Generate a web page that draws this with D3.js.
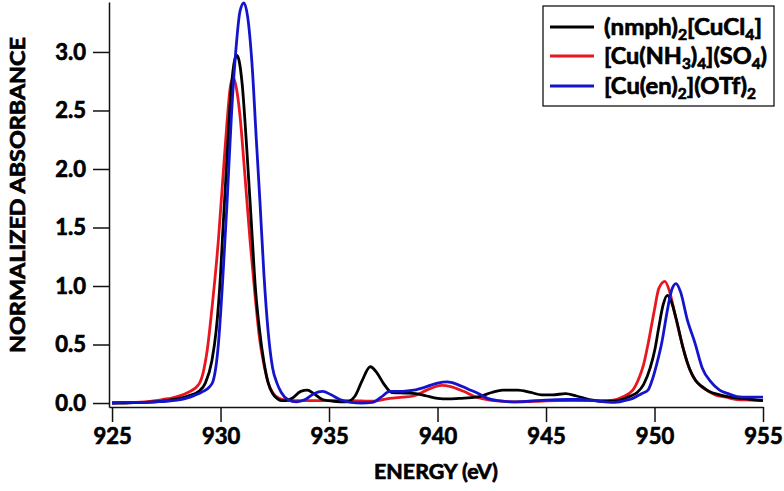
<!DOCTYPE html>
<html>
<head>
<meta charset="utf-8">
<script src="https://cdn.jsdelivr.net/npm/d3@7"></script>
<style>
  html, body { margin: 0; padding: 0; background: #fff; }
  svg { display: block; }
  text { font-family: Lato, "Open Sans", sans-serif; font-weight: 700; fill: #000; stroke: #000; stroke-width: 0.7px; }
</style>
</head>
<body>
<svg id="chart" width="784" height="491"></svg>
<script>
// ---- data ----
const xTicks = [925, 930, 935, 940, 945, 950, 955];
const yTicks = [0, 0.5, 1.0, 1.5, 2.0, 2.5, 3.0];
const xTitle = "ENERGY (eV)";
const yTitle = "NORMALIZED ABSORBANCE";

const blackE = [925.0,925.5,926.0,926.5,927.0,927.5,928.0,928.5,929.0,929.3,929.6,929.8,930.0,930.1,930.3,930.5,930.65,930.75,930.85,931.0,931.2,931.44,931.6,931.8,932.0,932.2,932.4,932.6,932.8,933.0,933.3,933.7,934.0,934.3,934.7,935.2,935.8,936.2,936.5,936.9,937.2,937.5,937.9,938.5,939.0,939.5,940.0,940.5,941.0,941.8,942.5,943.0,943.7,944.3,944.8,945.3,945.9,946.4,947.0,947.5,948.0,948.5,948.9,949.2,949.5,949.8,950.02,950.2,950.4,950.59,950.75,951.0,951.33,951.6,951.9,952.2,952.5,953.0,953.5,954.0,954.5,955.0];
const blackV = [0.0,0.0,0.003,0.005,0.01,0.02,0.035,0.06,0.1,0.17,0.36,0.62,1.1,1.45,2.1,2.7,2.93,2.97,2.93,2.72,2.2,1.48,1.0,0.62,0.35,0.17,0.08,0.04,0.02,0.02,0.04,0.1,0.11,0.08,0.03,0.015,0.01,0.06,0.18,0.31,0.26,0.17,0.09,0.085,0.08,0.06,0.04,0.035,0.04,0.05,0.09,0.11,0.11,0.09,0.07,0.07,0.08,0.06,0.03,0.015,0.015,0.03,0.06,0.09,0.16,0.3,0.46,0.65,0.84,0.92,0.88,0.72,0.46,0.3,0.19,0.14,0.1,0.07,0.05,0.04,0.03,0.02];

const redE = [925.0,926.0,926.5,927.0,927.5,927.7,928.0,928.5,929.0,929.2,929.4,929.6,929.9,930.1,930.3,930.45,930.58,930.7,930.9,931.1,931.36,931.6,931.8,932.0,932.2,932.4,932.7,933.0,933.5,934.0,935.0,936.0,937.0,937.8,938.4,938.9,939.5,940.2,940.6,941.2,941.8,942.4,943.0,943.5,944.5,945.5,946.5,947.5,948.1,948.5,949.0,949.3,949.5,949.72,950.0,950.2,950.48,950.7,950.95,951.25,951.5,951.8,952.1,952.4,952.8,953.3,953.8,954.4,955.0];
const redV = [0.0,0.005,0.01,0.02,0.035,0.04,0.055,0.09,0.16,0.26,0.47,0.8,1.39,1.9,2.4,2.7,2.78,2.72,2.45,2.0,1.39,0.9,0.55,0.33,0.17,0.09,0.04,0.025,0.02,0.02,0.02,0.02,0.015,0.04,0.05,0.06,0.11,0.15,0.14,0.1,0.05,0.025,0.015,0.01,0.015,0.02,0.02,0.02,0.025,0.05,0.11,0.22,0.33,0.52,0.8,0.98,1.04,0.95,0.75,0.52,0.35,0.22,0.15,0.11,0.07,0.05,0.03,0.025,0.02];

const blueE = [925.0,925.5,926.0,926.5,927.0,927.5,928.0,928.4,928.8,929.2,929.5,929.66,929.9,930.1,930.3,930.5,930.7,930.9,931.08,931.25,931.45,931.65,931.82,932.0,932.2,932.4,932.6,932.8,933.1,933.5,933.9,934.3,934.7,935.1,935.5,936.0,936.5,937.0,937.4,937.8,938.4,938.9,939.5,940.0,940.45,940.9,941.4,941.9,942.3,942.8,943.5,944.2,945.0,946.0,946.5,947.2,948.1,948.6,949.0,949.4,949.7,949.9,950.1,950.33,950.6,950.8,950.99,951.2,951.5,951.87,952.2,952.6,953.0,953.4,953.8,954.3,955.0];
const blueV = [0.0,0.005,0.005,0.005,0.01,0.015,0.025,0.04,0.065,0.1,0.14,0.19,0.5,1.05,1.71,2.45,3.0,3.35,3.42,3.3,2.9,2.25,1.71,1.1,0.6,0.3,0.17,0.09,0.03,0.01,0.03,0.08,0.1,0.07,0.03,0.005,0.0,0.005,0.05,0.1,0.1,0.11,0.14,0.17,0.18,0.16,0.12,0.08,0.04,0.02,0.01,0.015,0.025,0.03,0.03,0.02,0.005,0.02,0.04,0.08,0.11,0.2,0.33,0.51,0.8,0.97,1.02,0.95,0.72,0.51,0.3,0.18,0.11,0.08,0.055,0.05,0.05];

const seriesColors = { black: "#000000", red: "#e8171f", blue: "#1414cc" };

// ---- layout ----
const svg = d3.select("#chart");
const mLeft = 109, mRight = 763, mTop = 2, mBottom = 407;
const FONT = "Lato, sans-serif";

const x = d3.scaleLinear().domain([924.86, 955]).range([mLeft, mRight]);
const y = d3.scaleLinear().domain([-0.034, 3.427]).range([mBottom, mTop]);

const seriesData = {
  black: blackE.map((e, i) => [e, blackV[i]]),
  red: redE.map((e, i) => [e, redV[i]]),
  blue: blueE.map((e, i) => [e, blueV[i]])
};

const line = d3.line()
  .x(d => x(d[0]))
  .y(d => y(d[1]))
  .curve(d3.curveMonotoneX);

["red", "black", "blue"].forEach(k => {
  svg.append("path")
    .datum(seriesData[k])
    .attr("fill", "none")
    .attr("stroke", seriesColors[k])
    .attr("stroke-width", 2.8)
    .attr("stroke-linejoin", "round")
    .attr("d", line);
});

// axes
const xAxis = d3.axisBottom(x).tickValues(xTicks).tickFormat(d3.format("d"))
  .tickSize(15).tickSizeOuter(0).tickPadding(6);
const gx = svg.append("g").attr("transform", `translate(0,${mBottom})`).call(xAxis);
gx.select(".domain").attr("stroke", "#111").attr("stroke-width", 1.5);
gx.selectAll(".tick line").attr("stroke", "#111").attr("stroke-width", 1.5);
gx.selectAll(".tick text").attr("font-size", 22).attr("font-family", FONT).attr("font-weight", 700).attr("fill", "#000");

const yAxis = d3.axisLeft(y).tickValues(yTicks).tickFormat(d3.format(".1f"))
  .tickSize(16).tickSizeOuter(0).tickPadding(7);
const gy = svg.append("g").attr("transform", `translate(${mLeft},0)`).call(yAxis);
gy.select(".domain").attr("stroke", "#111").attr("stroke-width", 1.5);
gy.selectAll(".tick line").attr("stroke", "#111").attr("stroke-width", 1.5);
gy.selectAll(".tick text").attr("font-size", 22).attr("font-family", FONT).attr("font-weight", 700).attr("fill", "#000");

// axis titles
svg.append("text")
  .attr("x", (mLeft + mRight) / 2).attr("y", 479)
  .attr("text-anchor", "middle")
  .attr("font-size", 21)
  .attr("textLength", 124).attr("lengthAdjust", "spacingAndGlyphs")
  .text(xTitle);

svg.append("text")
  .attr("transform", "translate(25,195) rotate(-90)")
  .attr("text-anchor", "middle")
  .attr("font-size", 20)
  .attr("textLength", 316).attr("lengthAdjust", "spacingAndGlyphs")
  .text(yTitle);

// legend
const legend = svg.append("g");
legend.append("rect")
  .attr("x", 543).attr("y", 6).attr("width", 231).attr("height", 100)
  .attr("fill", "#fff").attr("stroke", "#000").attr("stroke-width", 1.2);

const legendRows = [
  { key: "black", y: 27, w: 158, parts: [["(nmph)", null], ["2", "sub"], ["[CuCl", null], ["4", "sub"], ["]", null]] },
  { key: "red", y: 56, w: 163, parts: [["[Cu(NH", null], ["3", "sub"], [")", null], ["4", "sub"], ["](SO", null], ["4", "sub"], [")", null]] },
  { key: "blue", y: 86, w: 152, parts: [["[Cu(en)", null], ["2", "sub"], ["](OTf)", null], ["2", "sub"]] }
];
legendRows.forEach(r => {
  legend.append("line")
    .attr("x1", 550).attr("x2", 594).attr("y1", r.y).attr("y2", r.y)
    .attr("stroke", seriesColors[r.key]).attr("stroke-width", 2.8);
  const t = legend.append("text")
    .attr("x", 604).attr("y", r.y + 8)
    .attr("font-size", 23);
  let first = true;
  r.parts.forEach(p => {
    const ts = t.append("tspan").text(p[0]);
    if (p[1] === "sub") {
      ts.attr("font-size", 15).attr("dy", 5);
    } else {
      ts.attr("dy", first ? 0 : -5);
    }
    first = false;
  });
  t.attr("textLength", r.w).attr("lengthAdjust", "spacingAndGlyphs");
});
</script>
</body>
</html>
